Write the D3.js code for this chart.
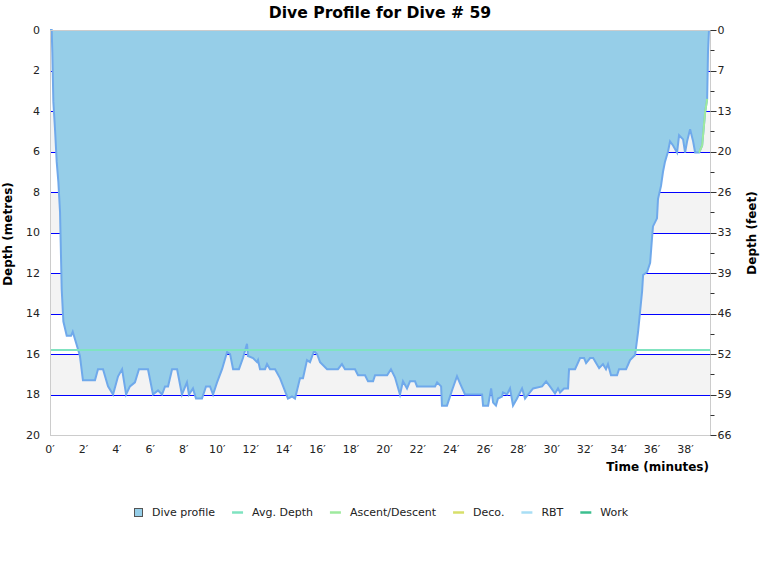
<!DOCTYPE html>
<html>
<head>
<meta charset="utf-8">
<script src="https://cdn.jsdelivr.net/npm/d3@7"></script>
<style>
  body { margin: 0; background: #fff; }
  svg { font-family: "DejaVu Sans", Verdana, sans-serif; }
</style>
</head>
<body>
<div id="chart"></div>
<script>
// dive profile (time in minutes, depth in metres)
const times = [0, 0.10, 0.14, 0.20, 0.30, 0.40, 0.50, 0.60, 0.64, 0.70, 0.80, 1.00, 1.26, 1.36, 1.67, 1.79, 1.97,
  2.69, 2.87, 3.17, 3.47, 3.77, 4.07, 4.31, 4.55, 4.78, 5.08, 5.32, 5.86, 6.16, 6.46, 6.70, 6.88, 7.06, 7.30, 7.60,
  7.89, 8.19, 8.31, 8.55, 8.73, 9.09, 9.33, 9.57, 9.75, 9.99, 10.29, 10.59, 10.77, 10.95, 11.30, 11.54, 11.78, 11.84,
  12.14, 12.38, 12.44, 12.56, 12.86, 12.98, 13.16, 13.46, 13.76, 14.23, 14.47, 14.65, 14.83, 14.95, 15.13, 15.37,
  15.55, 15.79, 15.97, 16.15, 16.57, 17.22, 17.46, 17.64, 18.24, 18.42, 18.84, 19.02, 19.32, 19.44, 20.16, 20.39,
  20.63, 20.93, 21.11, 21.35, 21.53, 21.83, 21.95, 23.03, 23.15, 23.39, 23.44, 23.74, 24.04, 24.34, 24.52, 24.82,
  25.84, 25.90, 26.20, 26.38, 26.50, 26.67, 26.79, 27.03, 27.09, 27.33, 27.51, 27.69, 27.93, 28.23, 28.41, 28.59,
  28.89, 29.43, 29.67, 29.90, 30.20, 30.38, 30.50, 30.74, 30.98, 31.04, 31.40, 31.70, 31.94, 32.06, 32.30, 32.48,
  32.84, 33.07, 33.25, 33.37, 33.55, 33.91, 34.03, 34.45, 34.69, 34.99, 35.17, 35.29, 35.41, 35.47, 35.71, 35.89,
  36.00, 36.06, 36.30, 36.36, 36.54, 36.66, 36.78, 36.96, 37.08, 37.26, 37.50, 37.62, 37.86, 37.98, 38.10, 38.28,
  38.46, 38.58, 38.82, 39.00, 39.18, 39.30, 39.35, 39.41];
const depths = [0, 0, 1.1, 3.55, 4.9, 6.5, 7.5, 9, 10.5, 12.8, 14.4, 15.1, 15.1, 14.9, 15.75, 16.1, 17.3,
  17.3, 16.75, 16.75, 17.6, 18, 17.1, 16.75, 18, 17.6, 17.4, 16.75, 16.75, 18, 17.8, 18, 17.6, 17.6, 16.75, 16.75,
  18, 17.4, 18, 17.7, 18.2, 18.2, 17.6, 17.6, 18, 17.4, 16.75, 15.9, 16, 16.75, 16.75, 16.2, 15.5, 16.1,
  16.2, 16.4, 16.3, 16.75, 16.75, 16.5, 16.75, 16.75, 17.2, 18.2, 18.1, 18.2, 17.6, 17.2, 17.2, 16.3,
  16.4, 15.85, 16, 16.4, 16.75, 16.75, 16.5, 16.75, 16.75, 17.05, 17.05, 17.35, 17.35, 17.05, 17.05, 16.75,
  17.15, 18, 17.35, 17.7, 17.35, 17.35, 17.6, 17.6, 17.4, 17.6, 18.55, 18.55, 17.8, 17.1, 17.45, 18,
  18, 18.55, 18.55, 17.7, 18.4, 18.55, 18.2, 18.1, 17.9, 18, 17.7, 18.55, 18.2, 17.7, 18.2, 18,
  17.7, 17.6, 17.35, 17.6, 17.95, 17.7, 17.9, 17.7, 17.7, 16.75, 16.75, 16.2, 16.2, 16.45, 16.2, 16.2,
  16.7, 16.5, 16.75, 16.5, 17.05, 17.05, 16.75, 16.75, 16.3, 16.05, 14.9, 13.9, 12.9, 12.1, 11.95, 11.5,
  10.3, 9.7, 9.3, 8.35, 7.7, 7.0, 6.5, 6.0, 5.5, 5.7, 6.05, 5.2, 5.4, 6.05, 5.5, 4.9,
  5.5, 6.05, 6.05, 5.7, 4.05, 3.4, 1.1, 0];

const diveLength = 39.47;
const avgDepth = 15.8;
const ascentFrom = 38.82;
const ascentTo = 39.30;

const depthTicks = [0, 2, 4, 6, 8, 10, 12, 14, 16, 18, 20];
const gridDepths = [2, 4, 6, 8, 10, 12, 14, 16, 18];
const feetLabels = ["0", "7", "13", "20", "26", "33", "39", "46", "52", "59", "66"];
const feetMinor = [1, 3, 5, 7, 9, 11, 13, 15, 17, 19];
const timeTicks = [0, 2, 4, 6, 8, 10, 12, 14, 16, 18, 20, 22, 24, 26, 28, 30, 32, 34, 36, 38];

const legendNames = ["Dive profile", "Avg. Depth", "Ascent/Descent", "Deco.", "RBT", "Work"];
const legendColors = ["#96cee8", "#7fe3c0", "#9eea9e", "#d7df6a", "#a8def5", "#3cbf8f"];

const W = 760, H = 580;
const plotLeft = 50, plotRight = 710, plotTop = 30, plotBottom = 435;

const x = d3.scaleLinear().domain([0, diveLength]).range([plotLeft, plotRight]);
const y = d3.scaleLinear().domain([0, 20]).range([plotTop, plotBottom]);

// pixel-snapped y for crisp 1px lines
const yPix = d => Math.round(y(d)) + 0.5;

const svg = d3.select("#chart").append("svg")
  .attr("width", W)
  .attr("height", H);

// alternating bands
svg.selectAll("rect.band")
  .data(depthTicks.slice(0, -1).filter((d, i) => i % 2 == 0))
  .enter().append("rect")
  .attr("class", "band")
  .attr("x", plotLeft)
  .attr("width", plotRight - plotLeft)
  .attr("y", d => Math.round(y(d)))
  .attr("height", d => Math.round(y(d + 2)) - Math.round(y(d)))
  .attr("fill", "#f3f3f3");

// grid lines
svg.selectAll("line.grid")
  .data(gridDepths)
  .enter().append("line")
  .attr("class", "grid")
  .attr("x1", plotLeft).attr("x2", plotRight)
  .attr("y1", yPix).attr("y2", yPix)
  .attr("stroke", "#0000ff")
  .attr("stroke-width", 1)
  .attr("shape-rendering", "crispEdges");

const profile = times.map((t, i) => [t, depths[i]]);

let area = d3.area()
  .x(d => x(d[0]))
  .y0(y(0))
  .y1(d => y(d[1]));

let line = d3.line()
  .x(d => x(d[0]))
  .y(d => y(d[1]));

svg.append("path")
  .datum(profile)
  .attr("d", area)
  .attr("fill", "#96cee8");

svg.append("path")
  .datum(profile)
  .attr("d", line)
  .attr("fill", "none")
  .attr("stroke", "#6fa9eb")
  .attr("stroke-width", 2);

// ascent segment
svg.append("path")
  .datum(profile.filter(d => d[0] >= ascentFrom && d[0] <= ascentTo))
  .attr("d", line)
  .attr("fill", "none")
  .attr("stroke", legendColors[2])
  .attr("stroke-width", 2);

// average depth
svg.append("line")
  .attr("x1", plotLeft).attr("x2", plotRight)
  .attr("y1", Math.round(y(avgDepth))).attr("y2", Math.round(y(avgDepth)))
  .attr("stroke", legendColors[1])
  .attr("stroke-width", 2);

// frame
svg.append("rect")
  .attr("x", plotLeft + 0.5).attr("y", plotTop + 0.5)
  .attr("width", plotRight - plotLeft).attr("height", plotBottom - plotTop)
  .attr("fill", "none")
  .attr("stroke", "#cccccc");

// left axis labels
svg.selectAll("text.ly")
  .data(depthTicks)
  .enter().append("text")
  .attr("class", "ly")
  .attr("x", 40)
  .attr("y", d => y(d))
  .attr("dy", "0.35em")
  .attr("text-anchor", "end")
  .style("font-size", "11px")
  .attr("fill", "#222")
  .text(d => d);

// right axis (feet)
let rightAxis = svg.append("g").attr("transform", `translate(${plotRight + 0.5},0)`);
rightAxis.selectAll("line.major")
  .data(depthTicks)
  .enter().append("line")
  .attr("class", "major")
  .attr("x1", 0).attr("x2", 6)
  .attr("y1", yPix).attr("y2", yPix)
  .attr("stroke", "#333");
rightAxis.selectAll("line.minor")
  .data(feetMinor)
  .enter().append("line")
  .attr("class", "minor")
  .attr("x1", 0).attr("x2", 4)
  .attr("y1", yPix).attr("y2", yPix)
  .attr("stroke", "#333");
rightAxis.selectAll("text")
  .data(depthTicks)
  .enter().append("text")
  .attr("x", 7)
  .attr("y", d => y(d))
  .attr("dy", "0.35em")
  .style("font-size", "11px")
  .attr("fill", "#222")
  .text((d, i) => feetLabels[i]);

// time labels
svg.selectAll("text.tx")
  .data(timeTicks)
  .enter().append("text")
  .attr("class", "tx")
  .attr("x", d => x(d))
  .attr("y", 453)
  .attr("text-anchor", "middle")
  .style("font-size", "11px")
  .attr("fill", "#222")
  .text(d => d + "\u2032");

// titles
svg.append("text")
  .attr("x", 380).attr("y", 18)
  .attr("text-anchor", "middle")
  .style("font-size", "15.6px").style("font-weight", "bold")
  .text("Dive Profile for Dive # 59");

svg.append("text")
  .attr("x", plotRight - 1).attr("y", 471)
  .attr("text-anchor", "end")
  .style("font-size", "12px").style("font-weight", "bold")
  .text("Time (minutes)");

svg.append("text")
  .attr("transform", "translate(12,234) rotate(-90)")
  .attr("text-anchor", "middle")
  .style("font-size", "12px").style("font-weight", "bold")
  .text("Depth (metres)");

svg.append("text")
  .attr("transform", "translate(756,233) rotate(-90)")
  .attr("text-anchor", "middle")
  .style("font-size", "12px").style("font-weight", "bold")
  .text("Depth (feet)");

// legend
let legend = svg.append("g");
let lx = 0;
legendNames.forEach(function(name, i) {
  let item = legend.append("g").attr("transform", `translate(${lx},0)`);
  if (i == 0) {
    item.append("rect")
      .attr("x", 0.5).attr("y", -3.5)
      .attr("width", 8).attr("height", 8)
      .attr("fill", legendColors[i])
      .attr("stroke", "#555");
  } else {
    item.append("line")
      .attr("x1", 0).attr("x2", 11)
      .attr("y1", 0.5).attr("y2", 0.5)
      .attr("stroke", legendColors[i])
      .attr("stroke-width", 2.5);
  }
  let txt = item.append("text")
    .attr("x", i == 0 ? 18 : 20)
    .attr("y", 0)
    .attr("dy", "0.35em")
    .style("font-size", "11px")
    .attr("fill", "#222")
    .text(name);
  lx += (i == 0 ? 18 : 20) + txt.node().getComputedTextLength() + 17;
});
legend.attr("transform", `translate(${Math.round(381 - (lx - 17) / 2)},512)`);
</script>
</body>
</html>
